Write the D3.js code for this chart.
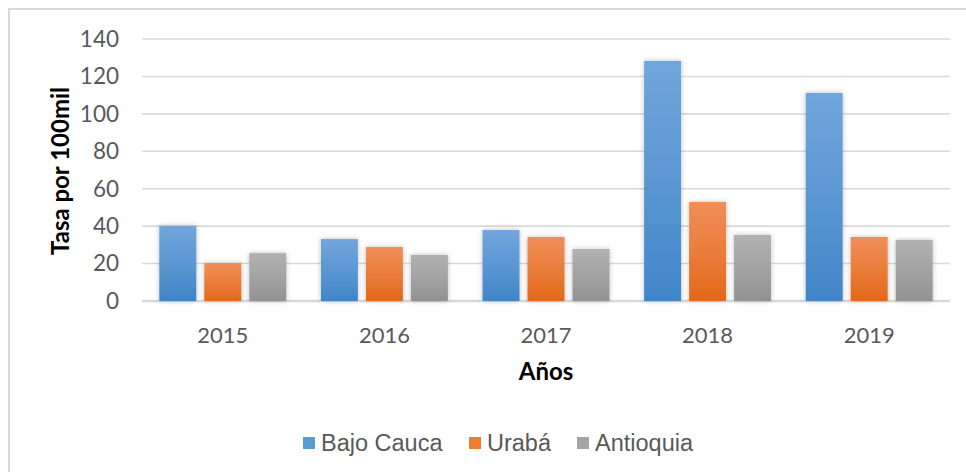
<!DOCTYPE html>
<html>
<head>
<meta charset="utf-8">
<script src="https://cdn.jsdelivr.net/npm/d3@7"></script>
<style>
  body { margin: 0; background: #fff; }
  svg { display: block; }
</style>
</head>
<body>
<svg id="chart" width="966" height="472"></svg>
<script>
// data
var years = ["2015", "2016", "2017", "2018", "2019"];
var seriesNames = ["Bajo Cauca", "Urabá", "Antioquia"];
var bajoCauca = [40.2, 33.1, 37.9, 128.3, 111.2];
var uraba = [20.3, 28.9, 34.2, 52.9, 34.2];
var antioquia = [25.6, 24.6, 27.8, 35.3, 32.6];
var yTicks = [0, 20, 40, 60, 80, 100, 120, 140];

var values = [bajoCauca, uraba, antioquia];
var colors = [
  { top: "#71a6dc", bot: "#4085c7", key: "#5b9bd5" },
  { top: "#f08e58", bot: "#e2681a", key: "#ed7d31" },
  { top: "#b1b1b1", bot: "#929292", key: "#a5a5a5" }
];

var svg = d3.select("#chart"),
    width = +svg.attr("width"),
    height = +svg.attr("height");

var margin = { left: 142, right: 16, top: 39, bottom: 171 };

// chart frame
svg.append("rect")
    .attr("x", 9).attr("y", 9)
    .attr("width", 966).attr("height", 480)
    .attr("fill", "none")
    .attr("stroke", "#d9d9d9")
    .attr("stroke-width", 2);

var defs = svg.append("defs");
colors.forEach(function(c, i) {
  var g = defs.append("linearGradient")
      .attr("id", "grad" + i)
      .attr("x1", 0).attr("y1", 0).attr("x2", 0).attr("y2", 1);
  g.append("stop").attr("offset", "0%").attr("stop-color", c.top);
  g.append("stop").attr("offset", "50%").attr("stop-color", d3.interpolateRgb(c.top, c.bot)(0.45));
  g.append("stop").attr("offset", "100%").attr("stop-color", c.bot);
});
var shadow = defs.append("filter").attr("id", "shadow")
    .attr("x", "-30%").attr("y", "-10%").attr("width", "160%").attr("height", "130%");
shadow.append("feDropShadow")
    .attr("dx", 0).attr("dy", 0).attr("stdDeviation", 2.5)
    .attr("flood-color", "#000").attr("flood-opacity", 0.25);

var x0 = d3.scaleBand()
    .domain(years)
    .range([margin.left, 950]);

var x1 = d3.scaleBand()
    .domain(d3.range(seriesNames.length))
    .range([0, x0.bandwidth()])
    .paddingInner(0.178)
    .paddingOuter(0.385);

var y = d3.scaleLinear()
    .domain([0, 140])
    .range([301, 39]);

// grid lines
svg.append("g")
    .selectAll("line")
    .data(yTicks)
    .enter().append("line")
    .attr("x1", margin.left)
    .attr("x2", 950)
    .attr("y1", function(d) { return y(d); })
    .attr("y2", function(d) { return y(d); })
    .attr("stroke", "#d9d9d9")
    .attr("stroke-width", function(d) { return d === 0 ? 2.5 : 1.6; });

// y tick labels
svg.append("g")
    .selectAll("text")
    .data(yTicks)
    .enter().append("text")
    .attr("x", 119)
    .attr("y", function(d) { return y(d); })
    .attr("dy", "0.35em")
    .attr("text-anchor", "end")
    .attr("fill", "#595959")
    .attr("font-family", "Lato, 'Open Sans', sans-serif")
    .attr("font-size", 22.5)
    .text(function(d) { return d; });

// bars
var groups = svg.append("g")
    .selectAll("g")
    .data(years)
    .enter().append("g")
    .attr("transform", function(d) { return "translate(" + x0(d) + ",0)"; });

groups.selectAll("rect")
    .data(function(d, yi) { return values.map(function(s, si) { return { s: si, v: s[yi] }; }); })
    .enter().append("rect")
    .attr("x", function(d) { return x1(d.s); })
    .attr("width", x1.bandwidth())
    .attr("y", function(d) { return y(d.v); })
    .attr("height", function(d) { return y(0) - y(d.v); })
    .attr("fill", function(d) { return "url(#grad" + d.s + ")"; })
    .attr("filter", "url(#shadow)");

// x labels
svg.append("g")
    .selectAll("text")
    .data(years)
    .enter().append("text")
    .attr("x", function(d) { return x0(d) + x0.bandwidth() / 2; })
    .attr("y", 335)
    .attr("dy", "0.35em")
    .attr("text-anchor", "middle")
    .attr("fill", "#595959")
    .attr("font-family", "Lato, 'Open Sans', sans-serif")
    .attr("font-size", 22)
    .text(function(d) { return d; });

// axis titles
svg.append("text")
    .attr("x", (margin.left + 950) / 2)
    .attr("y", 372)
    .attr("dy", "0.35em")
    .attr("text-anchor", "middle")
    .attr("font-family", "Lato, 'Open Sans', sans-serif")
    .attr("font-weight", "bold")
    .attr("font-size", 24)
    .attr("fill", "#000")
    .text("Años");

svg.append("text")
    .attr("transform", "translate(61,171) rotate(-90)")
    .attr("dy", "0.35em")
    .attr("text-anchor", "middle")
    .attr("font-family", "Lato, 'Open Sans', sans-serif")
    .attr("font-weight", "bold")
    .attr("font-size", 24)
    .attr("fill", "#000")
    .text("Tasa por 100mil");

// legend
var legendX = [303, 469, 577];
var legend = svg.append("g")
    .selectAll("g")
    .data(seriesNames)
    .enter().append("g")
    .attr("transform", function(d, i) { return "translate(" + legendX[i] + ",437)"; });

legend.append("rect")
    .attr("width", 12).attr("height", 12)
    .attr("fill", function(d, i) { return colors[i].key; });

legend.append("text")
    .attr("x", 18)
    .attr("y", 6)
    .attr("dy", "0.35em")
    .attr("fill", "#595959")
    .attr("font-family", "'Liberation Sans', Arial, sans-serif")
    .attr("font-size", 23.5)
    .text(function(d) { return d; });
</script>
</body>
</html>
